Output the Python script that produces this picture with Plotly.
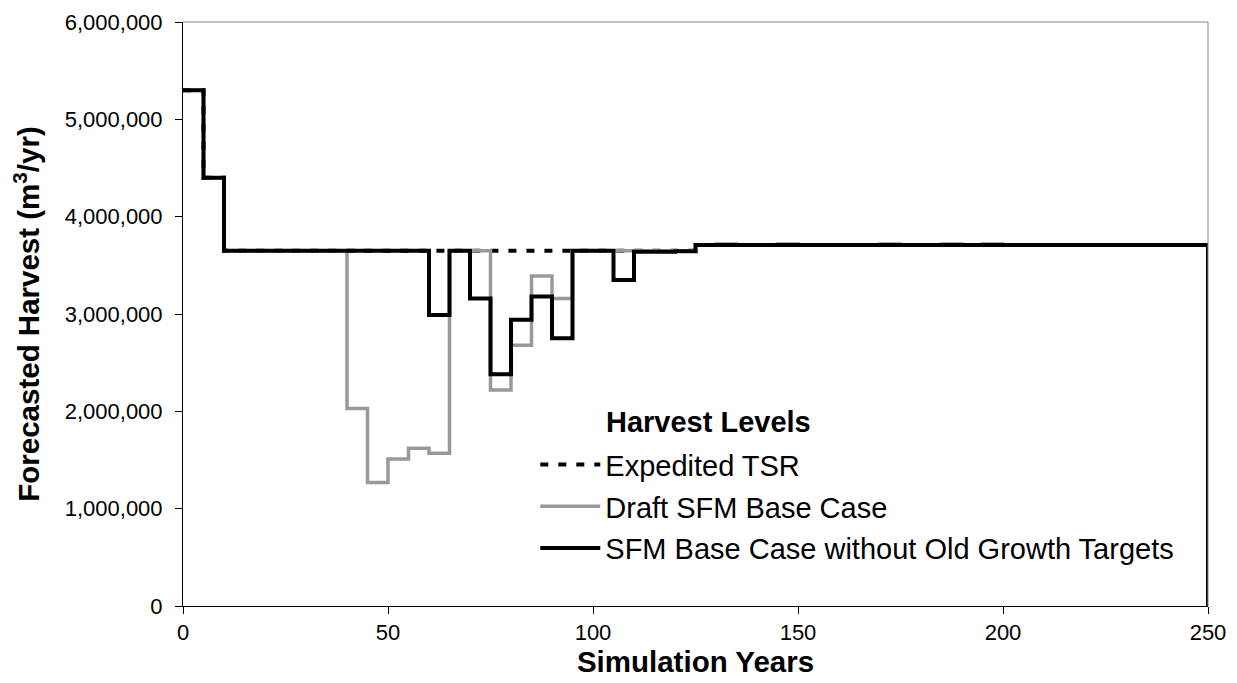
import plotly.graph_objects as go

years = list(range(0, 255, 5))  # 0..250

expedited_tsr = ([5300000, 4400000] + [3650000] * 23 + [3710000] * 25 + [0])

draft_sfm = ([5300000, 4400000] + [3650000] * 6 +
             [2030000, 1270000, 1510000, 1620000, 1570000,
              3650000, 3650000, 2220000, 2680000, 3390000, 3160000] +
             [3650000] * 6 +
             [3710000, 3720000, 3710000, 3710000, 3720000, 3710000, 3710000,
              3710000, 3710000, 3720000, 3710000, 3710000, 3720000, 3710000,
              3720000, 3710000, 3710000, 3710000, 3710000, 3710000, 3710000,
              3710000, 3710000, 3710000, 3710000] + [0])

sfm_no_og = ([5300000, 4400000] + [3650000] * 10 +
             [2990000, 3650000, 3160000, 2380000, 2940000, 3180000, 2750000,
              3650000, 3650000, 3350000, 3640000, 3640000, 3645000] +
             [3710000] * 25 + [0])

series_names = ["Expedited TSR", "Draft SFM Base Case",
                "SFM Base Case without Old Growth Targets"]

FONT = "Liberation Sans, Arial, sans-serif"

fig = go.Figure()
fig.add_trace(go.Scatter(x=years, y=expedited_tsr, name=series_names[0], legendgroup="a",
                         mode="lines", line=dict(shape="hv", color="black", width=4, dash="8px,10px")))
fig.add_trace(go.Scatter(x=years, y=draft_sfm, name=series_names[1], legendgroup="b",
                         mode="lines", line=dict(shape="hv", color="#999999", width=3.5)))
fig.add_trace(go.Scatter(x=years, y=sfm_no_og, name=series_names[2], legendgroup="c",
                         mode="lines", line=dict(shape="hv", color="black", width=4)))

# page body has an 8px margin, so the figure is sized to fit the 1237x683 window
fig.update_layout(
    width=1229, height=675,
    margin=dict(l=174.5, r=29, t=14, b=77),
    paper_bgcolor="white", plot_bgcolor="white",
    font=dict(family=FONT, color="black", size=22),
    showlegend=True,
    legend=dict(x=0.3437, y=0.2856, xanchor="left", yanchor="top",
                bgcolor="rgba(0,0,0,0)", font=dict(size=29, family=FONT),
                itemwidth=60, tracegroupgap=1),
    xaxis=dict(range=[0, 250], dtick=50, tick0=0, showgrid=False, zeroline=False,
               showline=True, linecolor="black", linewidth=1, automargin=False,
               ticks="outside", ticklen=7, tickcolor="black",
               tickfont=dict(size=22, family=FONT),
               title=dict(text="<b>Simulation Years</b>", font=dict(size=29.5, family=FONT), standoff=6)),
    yaxis=dict(range=[0, 6000000], dtick=1000000, tick0=0, showgrid=False, zeroline=False,
               showline=True, linecolor="black", linewidth=1, automargin=False,
               ticks="outside", ticklen=7, tickcolor="black", tickformat=",d",
               ticklabelstandoff=8,
               tickfont=dict(size=22, family=FONT),
               title=dict(text="<b>Forecasted Harvest (m<sup>3</sup>/yr)</b>", font=dict(size=29.5, family=FONT), standoff=16)),
    annotations=[dict(text="<b>Harvest Levels</b>", xref="paper", yref="paper",
                      x=0.411, y=0.3147, xanchor="left", yanchor="middle",
                      showarrow=False, font=dict(size=29, family=FONT))],
    shapes=[dict(type="line", xref="paper", yref="paper", x0=0, x1=1, y0=1, y1=1,
                 line=dict(color="#888888", width=1)),
            dict(type="line", xref="paper", yref="paper", x0=1, x1=1, y0=0, y1=1,
                 line=dict(color="#888888", width=1))],
)

fig.write_html("out.html")
